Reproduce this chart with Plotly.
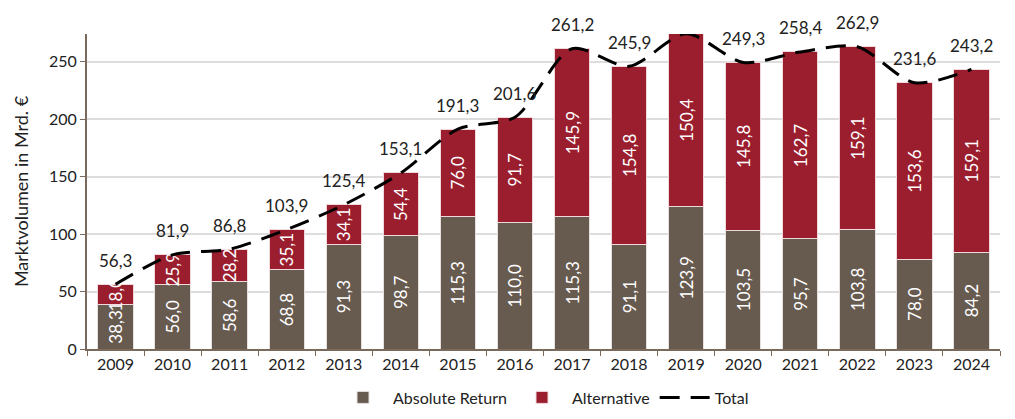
import plotly.graph_objects as go

years = ["2009", "2010", "2011", "2012", "2013", "2014", "2015", "2016",
         "2017", "2018", "2019", "2020", "2021", "2022", "2023", "2024"]
absolute_return = [38.3, 56.0, 58.6, 68.8, 91.3, 98.7, 115.3, 110.0,
                   115.3, 91.1, 123.9, 103.5, 95.7, 103.8, 78.0, 84.2]
alternative = [18.0, 25.9, 28.2, 35.1, 34.1, 54.4, 76.0, 91.7,
               145.9, 154.8, 150.4, 145.8, 162.7, 159.1, 153.6, 159.1]
total = [56.3, 81.9, 86.8, 103.9, 125.4, 153.1, 191.3, 201.6,
         261.2, 245.9, 274.3, 249.3, 258.4, 262.9, 231.6, 243.2]


def fmt(v):
    return f"{v:.1f}".replace(".", ",")


FONT = "Lato"
BROWN = "#675a4f"
RED = "#9b1e2e"

fig = go.Figure()
fig.add_trace(go.Bar(
    x=years, y=absolute_return, name="Absolute Return",
    marker=dict(color=BROWN, line=dict(color="#e8e0dc", width=1)),
    text=[fmt(v) for v in absolute_return], textposition="inside",
    insidetextanchor="middle", textangle=-90, constraintext="none",
    textfont=dict(color="white", size=17, family=FONT),
))
fig.add_trace(go.Bar(
    x=years, y=alternative, name="Alternative",
    marker=dict(color=RED, line=dict(color="#f0d8dc", width=1)),
    text=[fmt(v) for v in alternative], textposition="inside",
    insidetextanchor="middle", textangle=-90, constraintext="none",
    textfont=dict(color="white", size=17, family=FONT),
))
fig.add_trace(go.Scatter(
    x=years, y=total, name="Total", mode="lines",
    line=dict(color="black", width=3, dash="20px,11px", shape="spline", smoothing=0.8),
))

# category axis: annotations addressed by category index
for i, v in enumerate(total):
    fig.add_annotation(x=i, y=v, xref="x", yref="y", text=fmt(v), showarrow=False,
                       yshift=24, font=dict(size=17, color="#222222", family=FONT))

fig.update_layout(
    width=1015, height=419,
    margin=dict(l=76, r=23, t=26, b=66),
    barmode="stack", bargap=0.38,
    plot_bgcolor="white", paper_bgcolor="white",
    font=dict(family=FONT, size=16, color="#222222"),
    showlegend=True,
    legend=dict(orientation="h", x=0.5, xanchor="center", y=-0.1, yanchor="top",
                font=dict(size=16, family=FONT), traceorder="normal",
                itemwidth=50, tracegroupgap=0),
    xaxis=dict(type="category", showline=True, linecolor="#7a6a5c", linewidth=2,
               ticks="outside", tickson="boundaries", ticklen=5, tickcolor="#7a6a5c",
               tickfont=dict(size=16)),
    yaxis=dict(range=[0, 274], dtick=50, showline=True, linecolor="#7a6a5c", linewidth=2,
               ticks="outside", ticklen=5, tickcolor="#7a6a5c",
               showgrid=True, gridcolor="#dddddd", gridwidth=1.5, zeroline=False,
               title=dict(text="Marktvolumen in Mrd. €", font=dict(size=18), standoff=16),
               tickfont=dict(size=16)),
)

fig.write_html("out.html")
